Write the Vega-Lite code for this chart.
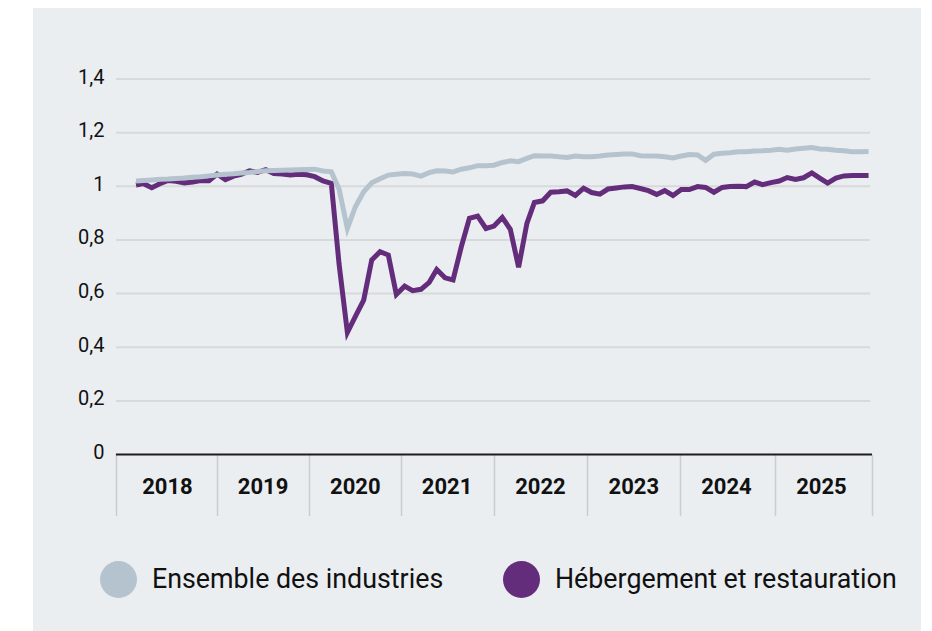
{
  "$schema": "https://vega.github.io/schema/vega-lite/v6.json",
  "width": 888,
  "height": 623,
  "autosize": {"type": "none"},
  "padding": {"left": 33, "top": 8, "right": 11, "bottom": 0},
  "background": "#ffffff",
  "view": {"fill": "#ebeef1", "stroke": null},
  "config": {"font": "Roboto"},
  "data": {
    "values": [
      {"mois": "2018-02", "Ensemble des industries": 1.020, "Hébergement et restauration": 1.005},
      {"mois": "2018-03", "Ensemble des industries": 1.022, "Hébergement et restauration": 1.010},
      {"mois": "2018-04", "Ensemble des industries": 1.024, "Hébergement et restauration": 0.995},
      {"mois": "2018-05", "Ensemble des industries": 1.026, "Hébergement et restauration": 1.010},
      {"mois": "2018-06", "Ensemble des industries": 1.027, "Hébergement et restauration": 1.022},
      {"mois": "2018-07", "Ensemble des industries": 1.029, "Hébergement et restauration": 1.019},
      {"mois": "2018-08", "Ensemble des industries": 1.031, "Hébergement et restauration": 1.013},
      {"mois": "2018-09", "Ensemble des industries": 1.034, "Hébergement et restauration": 1.016},
      {"mois": "2018-10", "Ensemble des industries": 1.036, "Hébergement et restauration": 1.022},
      {"mois": "2018-11", "Ensemble des industries": 1.039, "Hébergement et restauration": 1.021},
      {"mois": "2018-12", "Ensemble des industries": 1.042, "Hébergement et restauration": 1.046},
      {"mois": "2019-01", "Ensemble des industries": 1.045, "Hébergement et restauration": 1.025},
      {"mois": "2019-02", "Ensemble des industries": 1.047, "Hébergement et restauration": 1.038},
      {"mois": "2019-03", "Ensemble des industries": 1.050, "Hébergement et restauration": 1.045},
      {"mois": "2019-04", "Ensemble des industries": 1.052, "Hébergement et restauration": 1.058},
      {"mois": "2019-05", "Ensemble des industries": 1.055, "Hébergement et restauration": 1.052},
      {"mois": "2019-06", "Ensemble des industries": 1.058, "Hébergement et restauration": 1.062},
      {"mois": "2019-07", "Ensemble des industries": 1.059, "Hébergement et restauration": 1.048},
      {"mois": "2019-08", "Ensemble des industries": 1.060, "Hébergement et restauration": 1.046},
      {"mois": "2019-09", "Ensemble des industries": 1.061, "Hébergement et restauration": 1.042},
      {"mois": "2019-10", "Ensemble des industries": 1.062, "Hébergement et restauration": 1.045},
      {"mois": "2019-11", "Ensemble des industries": 1.063, "Hébergement et restauration": 1.043},
      {"mois": "2019-12", "Ensemble des industries": 1.064, "Hébergement et restauration": 1.036},
      {"mois": "2020-01", "Ensemble des industries": 1.057, "Hébergement et restauration": 1.020},
      {"mois": "2020-02", "Ensemble des industries": 1.054, "Hébergement et restauration": 1.011},
      {"mois": "2020-03", "Ensemble des industries": 0.990, "Hébergement et restauration": 0.710},
      {"mois": "2020-04", "Ensemble des industries": 0.843, "Hébergement et restauration": 0.455},
      {"mois": "2020-05", "Ensemble des industries": 0.924, "Hébergement et restauration": 0.515},
      {"mois": "2020-06", "Ensemble des industries": 0.980, "Hébergement et restauration": 0.576},
      {"mois": "2020-07", "Ensemble des industries": 1.013, "Hébergement et restauration": 0.725},
      {"mois": "2020-08", "Ensemble des industries": 1.028, "Hébergement et restauration": 0.756},
      {"mois": "2020-09", "Ensemble des industries": 1.042, "Hébergement et restauration": 0.744},
      {"mois": "2020-10", "Ensemble des industries": 1.045, "Hébergement et restauration": 0.597},
      {"mois": "2020-11", "Ensemble des industries": 1.048, "Hébergement et restauration": 0.628},
      {"mois": "2020-12", "Ensemble des industries": 1.046, "Hébergement et restauration": 0.611},
      {"mois": "2021-01", "Ensemble des industries": 1.038, "Hébergement et restauration": 0.616},
      {"mois": "2021-02", "Ensemble des industries": 1.051, "Hébergement et restauration": 0.642},
      {"mois": "2021-03", "Ensemble des industries": 1.058, "Hébergement et restauration": 0.690},
      {"mois": "2021-04", "Ensemble des industries": 1.057, "Hébergement et restauration": 0.659},
      {"mois": "2021-05", "Ensemble des industries": 1.054, "Hébergement et restauration": 0.651},
      {"mois": "2021-06", "Ensemble des industries": 1.064, "Hébergement et restauration": 0.775},
      {"mois": "2021-07", "Ensemble des industries": 1.069, "Hébergement et restauration": 0.881},
      {"mois": "2021-08", "Ensemble des industries": 1.077, "Hébergement et restauration": 0.889},
      {"mois": "2021-09", "Ensemble des industries": 1.077, "Hébergement et restauration": 0.843},
      {"mois": "2021-10", "Ensemble des industries": 1.079, "Hébergement et restauration": 0.852},
      {"mois": "2021-11", "Ensemble des industries": 1.089, "Hébergement et restauration": 0.884},
      {"mois": "2021-12", "Ensemble des industries": 1.095, "Hébergement et restauration": 0.840},
      {"mois": "2022-01", "Ensemble des industries": 1.092, "Hébergement et restauration": 0.698},
      {"mois": "2022-02", "Ensemble des industries": 1.104, "Hébergement et restauration": 0.862},
      {"mois": "2022-03", "Ensemble des industries": 1.114, "Hébergement et restauration": 0.940},
      {"mois": "2022-04", "Ensemble des industries": 1.113, "Hébergement et restauration": 0.946},
      {"mois": "2022-05", "Ensemble des industries": 1.113, "Hébergement et restauration": 0.978},
      {"mois": "2022-06", "Ensemble des industries": 1.110, "Hébergement et restauration": 0.980},
      {"mois": "2022-07", "Ensemble des industries": 1.108, "Hébergement et restauration": 0.983},
      {"mois": "2022-08", "Ensemble des industries": 1.113, "Hébergement et restauration": 0.966},
      {"mois": "2022-09", "Ensemble des industries": 1.110, "Hébergement et restauration": 0.993},
      {"mois": "2022-10", "Ensemble des industries": 1.110, "Hébergement et restauration": 0.977},
      {"mois": "2022-11", "Ensemble des industries": 1.113, "Hébergement et restauration": 0.971},
      {"mois": "2022-12", "Ensemble des industries": 1.117, "Hébergement et restauration": 0.990},
      {"mois": "2023-01", "Ensemble des industries": 1.119, "Hébergement et restauration": 0.994},
      {"mois": "2023-02", "Ensemble des industries": 1.121, "Hébergement et restauration": 0.998},
      {"mois": "2023-03", "Ensemble des industries": 1.121, "Hébergement et restauration": 0.999},
      {"mois": "2023-04", "Ensemble des industries": 1.114, "Hébergement et restauration": 0.992},
      {"mois": "2023-05", "Ensemble des industries": 1.113, "Hébergement et restauration": 0.984},
      {"mois": "2023-06", "Ensemble des industries": 1.113, "Hébergement et restauration": 0.970},
      {"mois": "2023-07", "Ensemble des industries": 1.110, "Hébergement et restauration": 0.984},
      {"mois": "2023-08", "Ensemble des industries": 1.106, "Hébergement et restauration": 0.966},
      {"mois": "2023-09", "Ensemble des industries": 1.113, "Hébergement et restauration": 0.988},
      {"mois": "2023-10", "Ensemble des industries": 1.119, "Hébergement et restauration": 0.988},
      {"mois": "2023-11", "Ensemble des industries": 1.117, "Hébergement et restauration": 0.999},
      {"mois": "2023-12", "Ensemble des industries": 1.097, "Hébergement et restauration": 0.996},
      {"mois": "2024-01", "Ensemble des industries": 1.120, "Hébergement et restauration": 0.978},
      {"mois": "2024-02", "Ensemble des industries": 1.123, "Hébergement et restauration": 0.996},
      {"mois": "2024-03", "Ensemble des industries": 1.125, "Hébergement et restauration": 0.999},
      {"mois": "2024-04", "Ensemble des industries": 1.129, "Hébergement et restauration": 1.000},
      {"mois": "2024-05", "Ensemble des industries": 1.129, "Hébergement et restauration": 0.999},
      {"mois": "2024-06", "Ensemble des industries": 1.132, "Hébergement et restauration": 1.016},
      {"mois": "2024-07", "Ensemble des industries": 1.133, "Hébergement et restauration": 1.006},
      {"mois": "2024-08", "Ensemble des industries": 1.135, "Hébergement et restauration": 1.014},
      {"mois": "2024-09", "Ensemble des industries": 1.138, "Hébergement et restauration": 1.020},
      {"mois": "2024-10", "Ensemble des industries": 1.135, "Hébergement et restauration": 1.033},
      {"mois": "2024-11", "Ensemble des industries": 1.139, "Hébergement et restauration": 1.026},
      {"mois": "2024-12", "Ensemble des industries": 1.142, "Hébergement et restauration": 1.032},
      {"mois": "2025-01", "Ensemble des industries": 1.145, "Hébergement et restauration": 1.050},
      {"mois": "2025-02", "Ensemble des industries": 1.139, "Hébergement et restauration": 1.030},
      {"mois": "2025-03", "Ensemble des industries": 1.138, "Hébergement et restauration": 1.012},
      {"mois": "2025-04", "Ensemble des industries": 1.135, "Hébergement et restauration": 1.031},
      {"mois": "2025-05", "Ensemble des industries": 1.133, "Hébergement et restauration": 1.039},
      {"mois": "2025-06", "Ensemble des industries": 1.129, "Hébergement et restauration": 1.040},
      {"mois": "2025-07", "Ensemble des industries": 1.129, "Hébergement et restauration": 1.040},
      {"mois": "2025-08", "Ensemble des industries": 1.130, "Hébergement et restauration": 1.040}
    ]
  },
  "layer": [
    {
      "data": {"values": [{"g": 0.2}, {"g": 0.4}, {"g": 0.6}, {"g": 0.8}, {"g": 1.0}, {"g": 1.2}, {"g": 1.4}]},
      "mark": {"type": "rule", "color": "#d8d9da", "strokeWidth": 2},
      "encoding": {
        "y": {"field": "g", "type": "quantitative", "scale": {"domain": [-0.658, 1.665], "nice": false, "zero": false}},
        "x": {"datum": {"year": 2017, "month": 11, "date": 18}, "type": "temporal", "scale": {"domain": [{"year": 2017, "month": 1, "date": 12}, {"year": 2026, "month": 2, "date": 13}], "nice": false}},
        "x2": {"datum": {"year": 2025, "month": 8, "date": 7}}
      }
    },
    {
      "data": {"values": [{"g": 0}]},
      "mark": {"type": "rule", "color": "#1c1c1c", "strokeWidth": 2},
      "encoding": {
        "y": {"field": "g", "type": "quantitative", "scale": {"domain": [-0.658, 1.665], "nice": false, "zero": false}},
        "x": {"datum": {"year": 2017, "month": 11, "date": 18}, "type": "temporal", "scale": {"domain": [{"year": 2017, "month": 1, "date": 12}, {"year": 2026, "month": 2, "date": 13}], "nice": false}},
        "x2": {"datum": {"year": 2025, "month": 8, "date": 14}}
      }
    },
    {
      "transform": [
        {"fold": ["Ensemble des industries", "Hébergement et restauration"], "as": ["serie", "valeur"]},
        {"filter": "datum.serie == 'Hébergement et restauration'"}
      ],
      "mark": {"type": "line", "strokeWidth": 5},
      "encoding": {
        "x": {"field": "mois", "type": "temporal", "scale": {"domain": [{"year": 2017, "month": 1, "date": 12}, {"year": 2026, "month": 2, "date": 13}], "nice": false}},
        "y": {"field": "valeur", "type": "quantitative", "scale": {"domain": [-0.658, 1.665], "nice": false, "zero": false}},
        "color": {"field": "serie", "type": "nominal", "scale": {"domain": ["Ensemble des industries", "Hébergement et restauration"], "range": ["#b4c3ce", "#642d7c"]}}
      }
    },
    {
      "transform": [
        {"fold": ["Ensemble des industries", "Hébergement et restauration"], "as": ["serie", "valeur"]},
        {"filter": "datum.serie == 'Ensemble des industries'"}
      ],
      "mark": {"type": "line", "strokeWidth": 5},
      "encoding": {
        "x": {
          "field": "mois", "type": "temporal",
          "scale": {"domain": [{"year": 2017, "month": 1, "date": 12}, {"year": 2026, "month": 2, "date": 13}], "nice": false},
          "axis": {
            "title": null,
            "orient": "bottom",
            "offset": -176.5,
            "values": [
              {"year": 2017, "month": 11, "date": 18},
              {"year": 2018, "month": 11, "date": 29},
              {"year": 2019, "month": 11, "date": 9},
              {"year": 2020, "month": 10, "date": 17},
              {"year": 2021, "month": 10, "date": 1},
              {"year": 2022, "month": 9, "date": 15},
              {"year": 2023, "month": 8, "date": 27},
              {"year": 2024, "month": 8, "date": 16},
              {"year": 2025, "month": 8, "date": 14}
            ],
            "domain": false,
            "grid": false,
            "ticks": true,
            "tickSize": 61,
            "tickColor": "#c9cdd2",
            "tickWidth": 1.5,
            "labelExpr": "year(datum.value) >= 2025 ? '' : '' + (year(datum.value) + 1)",
            "labelOffset": {"condition": {"test": "year(datum.value) == 2017", "value": 51}, "value": 46},
            "labelAlign": "center",
            "labelBaseline": "middle",
            "labelPadding": -29,
            "labelFont": "Roboto",
            "labelFontSize": 22,
            "labelFontWeight": "bold",
            "labelColor": "#111111",
            "labelOverlap": false,
            "labelBound": false,
            "labelFlush": false
          }
        },
        "y": {
          "field": "valeur", "type": "quantitative",
          "scale": {"domain": [-0.658, 1.665], "nice": false, "zero": false},
          "axis": {
            "title": null,
            "orient": "left",
            "offset": -83,
            "values": [0, 0.2, 0.4, 0.6, 0.8, 1, 1.2, 1.4],
            "domain": false,
            "ticks": false,
            "grid": false,
            "labelPadding": 12,
            "labelFont": "Roboto",
            "labelFontSize": 20,
            "labelColor": "#111111",
            "labelBaseline": "middle",
            "labelOffset": -2,
            "labelExpr": "replace(format(datum.value, '.1~f'), '.', ',')"
          }
        },
        "color": {
          "field": "serie", "type": "nominal",
          "scale": {"domain": ["Ensemble des industries", "Hébergement et restauration"], "range": ["#b4c3ce", "#642d7c"]},
          "legend": {
            "title": null,
            "orient": "none",
            "legendX": 67,
            "legendY": 553,
            "direction": "horizontal",
            "padding": 0,
            "symbolType": "circle",
            "symbolSize": 1369,
            "symbolStrokeWidth": 0,
            "labelFont": "Roboto",
            "labelFontSize": 26.8,
            "labelColor": "#111111",
            "labelOffset": 15,
            "labelLimit": 600,
            "columnPadding": 59,
            "encode": {"symbols": {"update": {"fill": {"scale": "color", "field": "value"}, "stroke": {"value": "transparent"}, "opacity": {"value": 1}}}}
          }
        }
      }
    }
  ]
}
